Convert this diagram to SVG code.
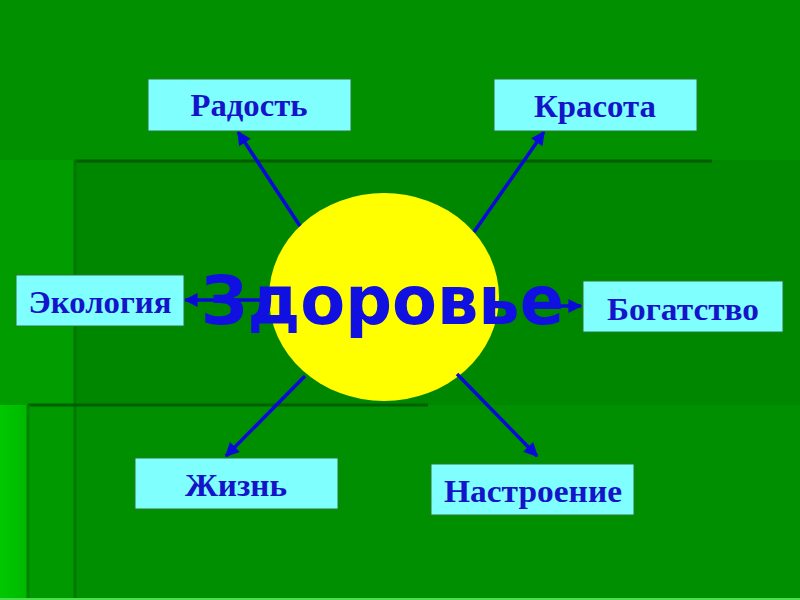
<svg xmlns="http://www.w3.org/2000/svg" width="800" height="600" viewBox="0 0 800 600">
  <defs>
    <style>
      .box { fill: #80ffff; stroke: #2a7a2a; stroke-width: 1; }
      .lbl { font-family: "Liberation Serif", "Times New Roman", serif; font-weight: bold; font-size: 32px; fill: #1414c8; text-anchor: middle; }
      .title { font-family: "DejaVu Sans", sans-serif; font-weight: bold; font-size: 68px; fill: #1010e0; }
      .conn { stroke: #0a0ad8; stroke-width: 3.5; fill: none; marker-end: url(#ah); }
      .dline { fill: none; }
    </style>
    <marker id="ah" viewBox="0 0 10 10" refX="9" refY="5" markerWidth="4.5" markerHeight="4" orient="auto" markerUnits="strokeWidth">
      <path d="M0,0 L10,5 L0,10 Z" fill="#0a0ad8"/>
    </marker>
    <linearGradient id="strip" x1="0" y1="0" x2="1" y2="0">
      <stop offset="0" stop-color="#00c800"/>
      <stop offset="1" stop-color="#00b800"/>
    </linearGradient>
  </defs>

  <!-- background -->
  <rect x="0" y="0" width="800" height="600" fill="#009000"/>
  <rect x="0" y="160" width="75" height="245" fill="#009c00"/>
  <rect x="75" y="160" width="725" height="245" fill="#008700"/>
  <rect x="28" y="405" width="772" height="195" fill="#008f00"/>
  <rect x="28" y="405" width="47" height="195" fill="#009a00"/>
  <rect x="0" y="405" width="28" height="195" fill="url(#strip)"/>
  <line class="dline" x1="75" y1="161" x2="712" y2="161" stroke-width="3" stroke="#005c00"/>
  <line class="dline" x1="75" y1="160" x2="75" y2="600" stroke-width="3" stroke="#007800"/>
  <line class="dline" x1="28" y1="405" x2="428" y2="405" stroke-width="3" stroke="#006000"/>
  <line class="dline" x1="28" y1="405" x2="28" y2="600" stroke-width="3" stroke="#008400"/>
  <line x1="0" y1="599" x2="800" y2="599" stroke="#4ce04c" stroke-width="2"/>

  <!-- center node -->
  <g id="center">
    <ellipse cx="384" cy="297" rx="115" ry="104" fill="#ffff00"/>
  </g>

  <!-- connectors -->
  <g id="connectors">
    <line class="conn" x1="300" y1="226" x2="238" y2="132"/>
    <line class="conn" x1="474" y1="232" x2="544" y2="132"/>
    <line class="conn" x1="260" y1="300" x2="185" y2="300"/>
    <line class="conn" x1="528" y1="306" x2="581" y2="306"/>
    <line class="conn" x1="305" y1="376" x2="226" y2="456"/>
    <line class="conn" x1="457" y1="374" x2="537" y2="456"/>
  </g>

  <g id="center-label">
    <text class="title" x="201" y="324" textLength="363" lengthAdjust="spacingAndGlyphs">Здоровье</text>
  </g>

  <g id="radost">
    <rect class="box" x="148" y="79" width="203" height="52"/>
    <text class="lbl" x="249" y="116" textLength="117" lengthAdjust="spacingAndGlyphs">Радость</text>
  </g>
  <g id="krasota">
    <rect class="box" x="494" y="79" width="203" height="52"/>
    <text class="lbl" x="595" y="117" textLength="122" lengthAdjust="spacingAndGlyphs">Красота</text>
  </g>
  <g id="ekologiya">
    <rect class="box" x="16" y="275" width="168" height="51"/>
    <text class="lbl" x="100" y="313" textLength="143" lengthAdjust="spacingAndGlyphs">Экология</text>
  </g>
  <g id="bogatstvo">
    <rect class="box" x="583" y="281" width="200" height="51"/>
    <text class="lbl" x="683" y="320" textLength="152" lengthAdjust="spacingAndGlyphs">Богатство</text>
  </g>
  <g id="zhizn">
    <rect class="box" x="135" y="458" width="203" height="51"/>
    <text class="lbl" x="236" y="496" textLength="102" lengthAdjust="spacingAndGlyphs">Жизнь</text>
  </g>
  <g id="nastroenie">
    <rect class="box" x="431" y="464" width="203" height="51"/>
    <text class="lbl" x="533" y="502" textLength="178" lengthAdjust="spacingAndGlyphs">Настроение</text>
  </g>
</svg>
